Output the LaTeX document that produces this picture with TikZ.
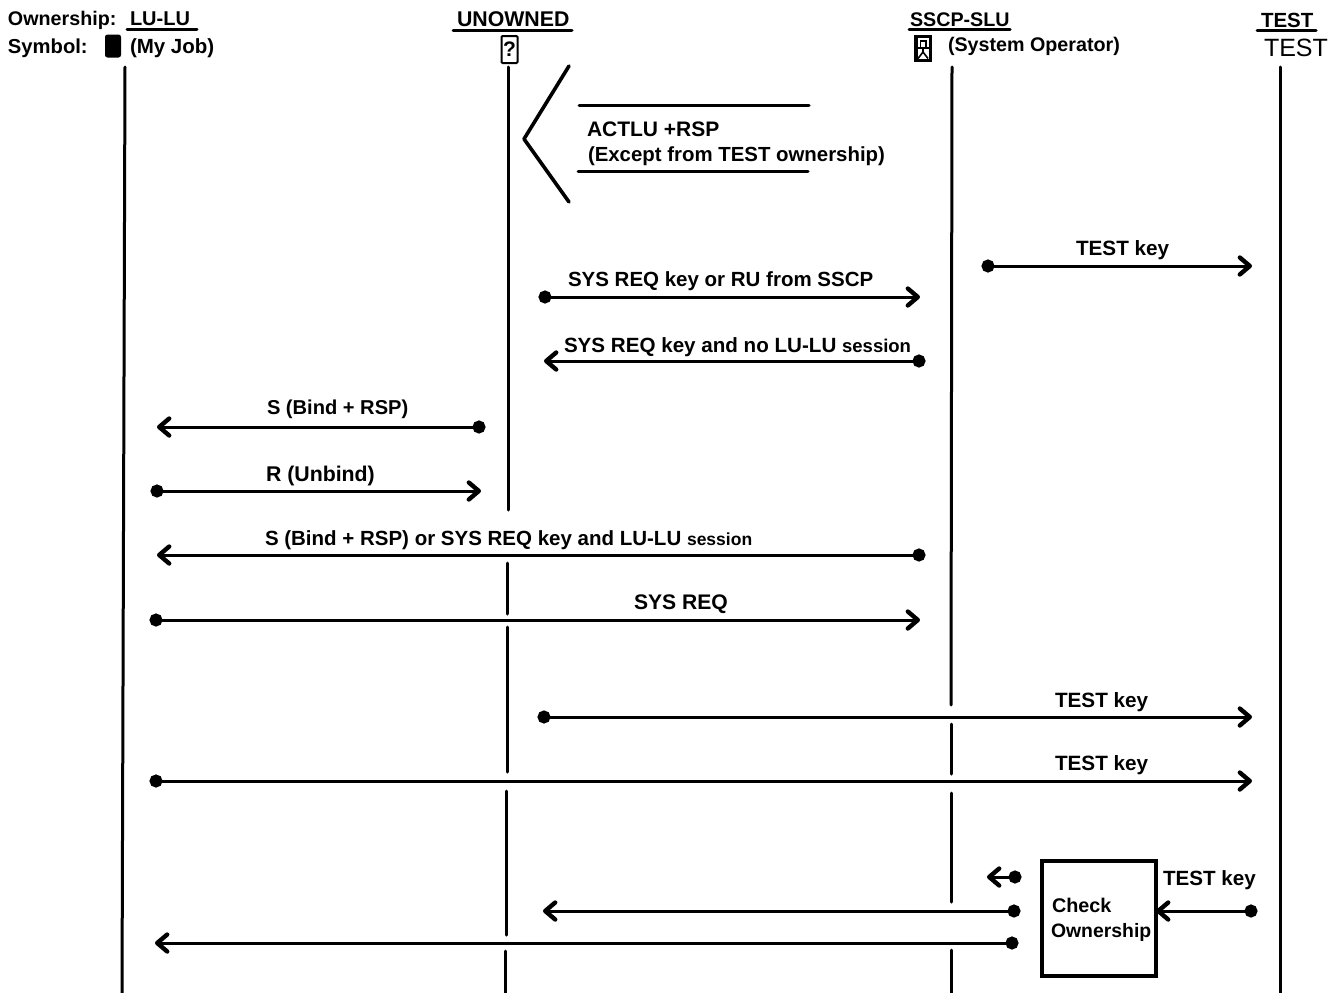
\documentclass[tikz,border=0pt]{standalone}
\usepackage{fontspec}
\setmainfont{Liberation Sans}
\usetikzlibrary{arrows.meta}
\tikzset{
 lbl/.style={anchor=base west,inner sep=0pt,outer sep=0pt,font=\bfseries\fontsize{20.5}{23}\selectfont},
 fs/.style={font=\bfseries\fontsize{#1}{23}\selectfont},
 big/.style={anchor=base west,inner sep=0pt,outer sep=0pt,font=\fontsize{25}{28}\selectfont},
 life/.style={line width=3pt,line cap=round},
 rule/.style={line width=3pt,line cap=round},
 msgr/.style={line width=3pt,shorten <=-6.5pt,{Circle[length=13pt,width=13pt]}-{Straight Barb[length=10pt,width=17pt,line width=4.4pt,round]}},
 msgl/.style={line width=3pt,shorten >=-6.5pt,{Straight Barb[length=10pt,width=17pt,line width=4.4pt,round]}-{Circle[length=13pt,width=13pt]}}
}
\newcommand{\sm}[1]{{\fontsize{17.5}{20}\selectfont #1}}
\begin{document}
\begin{tikzpicture}[x=1pt,y=-1pt]
\useasboundingbox (0,0) rectangle (1342,993);
% headers
\node[lbl,fs=19.7] (own) at (8,25) {Ownership:};
\node[lbl,fs=20] (lulu) at (130,25) {LU-LU};
\node[lbl,fs=21.3] (unow) at (457,26) {UNOWNED};
\node[lbl,fs=19.7] (sscp) at (910,26.5) {SSCP-SLU};
\node[lbl] (testh) at (1261,27.5) {TEST};
\node[lbl,fs=20.2] (sym) at (8,53) {Symbol:};
\node[lbl] (myjob) at (130,53) {(My Job)};
\node[lbl,fs=19.7] (sysop) at (948,51.5) {(System Operator)};
\node[big] (testb) at (1264,56.5) {TEST};
% header rules
\coordinate (ua) at (127,29.5); \coordinate (ub) at (197,29.5);
\coordinate (uc) at (453,30); \coordinate (ud) at (572,30);
\coordinate (ue) at (909,29.5); \coordinate (uf) at (1010,29.5);
\coordinate (ug) at (1257,30); \coordinate (uh) at (1316,30);
\draw[rule] (ua)--(ub); \draw[rule] (uc)--(ud); \draw[rule] (ue)--(uf); \draw[rule] (ug)--(uh);
% symbols
\node[fill=black,rounded corners=2.5pt,minimum width=16pt,minimum height=23pt,inner sep=0pt] (symjob) at (113,46) {};
\node[draw=black,line width=2pt,rounded corners=1pt,minimum width=16pt,minimum height=27pt,inner sep=0pt,font=\bfseries\fontsize{21}{22}\selectfont] (symq) at (509.5,49.5) {?};
\node[draw=black,fill=black,line width=1pt,minimum width=17pt,minimum height=26pt,inner sep=0pt] (symop) at (923,48) {};
\fill[white] (917.5,38) rectangle (928.5,46.5);
\fill[black] (919.5,40) rectangle (926.5,46.5);
\fill[white] (921,42) rectangle (925,46.5);
\fill[white] (917.5,48.5) rectangle (928.5,58.5);
\draw[black,line width=1.6pt] (923,48.5) -- (923,52) -- (918,58.5);
\draw[black,line width=1.6pt] (923,52) -- (928,58.5);
% lifelines
\coordinate (a0) at (125,67); \coordinate (a1) at (122,995);
\draw[life] (a0)--(a1);
\coordinate (b0) at (508,67); \coordinate (b1) at (508,510);
\coordinate (b2) at (507,563); \coordinate (b3) at (507,614);
\coordinate (b4) at (507,627); \coordinate (b5) at (507,772);
\coordinate (b6) at (506,791); \coordinate (b7) at (506,935);
\coordinate (b8) at (505,951); \coordinate (b9) at (505,995);
\draw[life] (b0)--(b1); \draw[life] (b2)--(b3); \draw[life] (b4)--(b5); \draw[life] (b6)--(b7); \draw[life] (b8)--(b9);
\coordinate (c0) at (952,67); \coordinate (c1) at (951,705);
\coordinate (c2) at (951,724); \coordinate (c3) at (951,774);
\coordinate (c4) at (951,793); \coordinate (c5) at (951,902);
\coordinate (c6) at (951,950); \coordinate (c7) at (951,995);
\draw[life] (c0)--(c1); \draw[life] (c2)--(c3); \draw[life] (c4)--(c5); \draw[life] (c6)--(c7);
\coordinate (d0) at (1280,67); \coordinate (d1) at (1280,995);
\draw[life] (d0)--(d1);
% chevron note
\coordinate (ch1) at (569,66); \coordinate (ch2) at (524,139); \coordinate (ch3) at (569,202);
\draw[line width=3.6pt,line cap=round,line join=round] (ch1)--(ch2)--(ch3);
\coordinate (r1) at (579,105); \coordinate (r2) at (809,105);
\coordinate (r3) at (578,171); \coordinate (r4) at (808,171);
\draw[rule] (r1)--(r2); \draw[rule] (r3)--(r4);
\node[lbl,fs=21] (actlu) at (587,136.5) {ACTLU +RSP};
\node[lbl,fs=20.4] (exc) at (588,161) {(Except from TEST ownership)};
% messages
\node[lbl,fs=20.7] (m1) at (1076,255.5) {TEST key};
\coordinate (m1a) at (988,266); \coordinate (m1b) at (1252,266); \draw[msgr] (m1a)--(m1b);
\node[lbl] (m2) at (568,286.5) {SYS REQ key or RU from SSCP};
\coordinate (m2a) at (545,297); \coordinate (m2b) at (920,297); \draw[msgr] (m2a)--(m2b);
\node[lbl,fs=20.6] (m3) at (564,352.5) {SYS REQ key and no LU-LU \fontsize{18.5}{20}\selectfont session};
\coordinate (m3a) at (544,361); \coordinate (m3b) at (919,361); \draw[msgl] (m3a)--(m3b);
\node[lbl,fs=20.1] (m4) at (267,414.5) {S (Bind + RSP)};
\coordinate (m4a) at (157,427); \coordinate (m4b) at (479,427); \draw[msgl] (m4a)--(m4b);
\node[lbl,fs=21.3] (m5) at (266,481.5) {R (Unbind)};
\coordinate (m5a) at (157,491); \coordinate (m5b) at (481,491); \draw[msgr] (m5a)--(m5b);
\node[lbl] (m6) at (265,545.5) {S (Bind + RSP) or SYS REQ key and LU-LU \sm{session}};
\coordinate (m6a) at (157,555); \coordinate (m6b) at (919,555); \draw[msgl] (m6a)--(m6b);
\node[lbl,fs=21.1] (m7) at (634,609.5) {SYS REQ};
\coordinate (m7a) at (156,620); \coordinate (m7b) at (920,620); \draw[msgr] (m7a)--(m7b);
\node[lbl,fs=20.7] (m8) at (1055,707.5) {TEST key};
\coordinate (m8a) at (544,717); \coordinate (m8b) at (1252,717); \draw[msgr] (m8a)--(m8b);
\node[lbl,fs=20.7] (m9) at (1055,770.5) {TEST key};
\coordinate (m9a) at (156,781); \coordinate (m9b) at (1252,781); \draw[msgr] (m9a)--(m9b);
% check box
\node[draw=black,line width=3.2pt,minimum width=114pt,minimum height=115pt,inner sep=0pt,outer sep=0pt] (chk) at (1099,918.5) {};
\node[lbl,fs=19.8] (chk1) at (1052,912.5) {Check};
\node[lbl,fs=19.4] (chk2) at (1051,937.5) {Ownership};
\node[lbl,fs=20.6] (m10) at (1163,885.5) {TEST key};
\coordinate (m10a) at (1251,911);
\draw[msgl] (chk.east |- m10a)--(m10a);
\coordinate (o1a) at (987,877); \coordinate (o1b) at (1015,877); \draw[msgl] (o1a)--(o1b);
\coordinate (o2a) at (543,911); \coordinate (o2b) at (1014,911); \draw[msgl] (o2a)--(o2b);
\coordinate (o3a) at (155,943); \coordinate (o3b) at (1012,943); \draw[msgl] (o3a)--(o3b);
\end{tikzpicture}
\end{document}
